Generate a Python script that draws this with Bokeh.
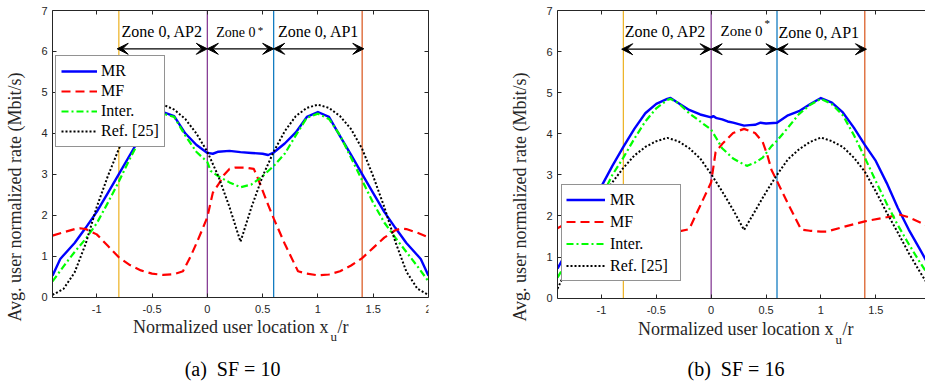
from bokeh.plotting import figure
from bokeh.layouts import row
from bokeh.models import Range1d, LinearAxis, FixedTicker, Legend, LegendItem, Label, Arrow, VeeHead
from bokeh.embed import file_html
from bokeh.resources import INLINE

# ---------------- data ----------------
x_ticks = [-1, -0.5, 0, 0.5, 1, 1.5, 2]
x_tick_labels = ["-1", "-0.5", "0", "0.5", "1", "1.5", "2"]
y_ticks = [0, 1, 2, 3, 4, 5, 6, 7]
y_tick_labels = ["0", "1", "2", "3", "4", "5", "6", "7"]

series_names = ["MR", "MF", "Inter.", "Ref. [25]"]
zone_bounds = [-0.8, 0.0, 0.6, 1.4]
zone_colors = ["#EDB120", "#7E2F8E", "#0072BD", "#D95319"]
arrow_starts = [-0.815, 0.0, 0.6]
arrow_ends = [0.0, 0.6, 1.415]
zone_names = ["Zone 0, AP2", "Zone 0", "Zone 0, AP1"]
captions = ["(a)\u00a0 SF = 10", "(b)\u00a0 SF = 16"]

# SF = 10
x_mr10 = [-1.4, -1.33, -1.3, -1.2, -1.1, -1.0, -0.9, -0.8, -0.7, -0.6, -0.5, -0.4, -0.3, -0.2, -0.1, 0.0, 0.05, 0.1,
          0.2, 0.3, 0.4, 0.5, 0.55, 0.6, 0.7, 0.8, 0.9, 1.0, 1.1, 1.2, 1.3, 1.4, 1.5, 1.6, 1.7, 1.8, 1.9, 1.93, 2.0]
mr10 = [0.52, 0.93, 1.02, 1.32, 1.69, 2.08, 2.54, 3.0, 3.47, 3.93, 4.33, 4.52, 4.42, 4.0, 3.72, 3.52, 3.5, 3.55,
        3.57, 3.54, 3.52, 3.5, 3.47, 3.53, 3.75, 4.02, 4.4, 4.52, 4.4, 3.93, 3.47, 3.0, 2.54, 2.08, 1.69, 1.32, 1.02, 0.93, 0.52]
x_mf10 = [-1.4, -1.3, -1.2, -1.15, -1.1, -1.0, -0.9, -0.8, -0.7, -0.6, -0.5, -0.4, -0.3, -0.22, -0.15, -0.1, -0.05,
          0.0, 0.05, 0.1, 0.15, 0.2, 0.25, 0.3, 0.35, 0.42, 0.45, 0.5, 0.55, 0.6, 0.7, 0.75, 0.82, 0.9, 1.0, 1.1, 1.2,
          1.3, 1.4, 1.5, 1.6, 1.7, 1.75, 1.8, 1.9, 2.0]
mf10 = [1.5, 1.58, 1.66, 1.68, 1.66, 1.53, 1.25, 0.97, 0.78, 0.65, 0.57, 0.54, 0.56, 0.63, 1.0, 1.3, 1.62,
        1.95, 2.55, 2.75, 2.98, 3.13, 3.16, 3.16, 3.16, 3.13, 2.95, 2.6, 2.25, 1.92, 1.3, 1.02, 0.63, 0.57, 0.53, 0.55, 0.63,
        0.77, 0.95, 1.2, 1.45, 1.63, 1.67, 1.66, 1.57, 1.46]
x_in10 = [-1.4, -1.3, -1.2, -1.1, -1.0, -0.9, -0.8, -0.7, -0.6, -0.5, -0.4, -0.3, -0.2, -0.1, 0.0, 0.03, 0.1, 0.2,
          0.3, 0.4, 0.5, 0.6, 0.7, 0.8, 0.9, 1.0, 1.1, 1.2, 1.3, 1.4, 1.5, 1.6, 1.7, 1.8, 1.9, 2.0]
in10 = [0.38, 0.75, 1.1, 1.42, 1.8, 2.3, 2.82, 3.38, 3.9, 4.3, 4.48, 4.4, 3.95, 3.55, 3.3, 3.08, 2.95, 2.8,
        2.68, 2.75, 2.95, 3.2, 3.5, 3.95, 4.38, 4.48, 4.35, 3.95, 3.4, 2.85, 2.3, 1.82, 1.45, 1.1, 0.75, 0.38]
x_rf10 = [-1.4, -1.3, -1.2, -1.1, -1.0, -0.9, -0.8, -0.7, -0.6, -0.5, -0.4, -0.3, -0.2, -0.1, 0.0, 0.1, 0.2, 0.3,
          0.4, 0.5, 0.6, 0.7, 0.8, 0.9, 1.0, 1.1, 1.2, 1.3, 1.4, 1.5, 1.6, 1.7, 1.8, 1.9, 2.0]
rf10 = [0.05, 0.2, 0.6, 1.3, 2.2, 2.95, 3.62, 4.12, 4.45, 4.65, 4.7, 4.58, 4.35, 4.0, 3.55, 2.95, 2.2, 1.35,
        2.2, 2.95, 3.55, 4.05, 4.42, 4.62, 4.7, 4.62, 4.42, 4.1, 3.62, 2.95, 2.2, 1.35, 0.62, 0.2, 0.05]

# SF = 16
x_mr16 = [-1.4, -1.3, -1.2, -1.1, -1.0, -0.9, -0.8, -0.7, -0.6, -0.5, -0.4, -0.37, -0.3, -0.2, -0.1, 0.0, 0.02, 0.05,
          0.1, 0.15, 0.2, 0.3, 0.35, 0.4, 0.45, 0.5, 0.6, 0.7, 0.8, 0.9, 1.0, 1.1, 1.2, 1.3, 1.4, 1.5, 1.6, 1.7, 1.8, 1.9, 2.0]
mr16 = [0.72, 1.2, 1.67, 2.2, 2.72, 3.22, 3.68, 4.12, 4.5, 4.73, 4.85, 4.87, 4.75, 4.58, 4.47, 4.4, 4.43, 4.38,
        4.35, 4.3, 4.27, 4.2, 4.21, 4.22, 4.27, 4.25, 4.27, 4.45, 4.55, 4.72, 4.87, 4.76, 4.52, 4.15, 3.73, 3.34, 2.8, 2.2, 1.67, 1.2, 0.72]
x_mf16 = [-1.4, -1.3, -1.2, -1.1, -1.0, -0.9, -0.8, -0.7, -0.6, -0.5, -0.4, -0.3, -0.2, -0.1, 0.0, 0.04, 0.1, 0.2,
          0.3, 0.4, 0.47, 0.51, 0.55, 0.6, 0.7, 0.82, 0.9, 1.0, 1.05, 1.2, 1.4, 1.6, 1.72, 1.8, 1.9, 2.0]
mf16 = [1.7, 1.85, 1.96, 2.02, 2.0, 1.95, 1.88, 1.82, 1.76, 1.7, 1.64, 1.62, 1.68, 2.25, 2.82, 3.55, 3.75, 4.02,
        4.12, 4.02, 3.8, 3.5, 3.12, 2.85, 2.3, 1.67, 1.64, 1.62, 1.62, 1.73, 1.87, 1.97, 2.03, 1.97, 1.85, 1.72]
x_in16 = [-1.4, -1.3, -1.2, -1.1, -1.0, -0.9, -0.8, -0.7, -0.6, -0.5, -0.4, -0.37, -0.3, -0.2, -0.1, 0.0, 0.05, 0.1,
          0.2, 0.3, 0.33, 0.4, 0.47, 0.55, 0.6, 0.7, 0.8, 0.9, 1.0, 1.1, 1.2, 1.3, 1.4, 1.5, 1.6, 1.7, 1.8, 1.9, 2.0]
in16 = [0.5, 0.95, 1.4, 1.9, 2.45, 3.0, 3.42, 3.88, 4.3, 4.62, 4.82, 4.85, 4.75, 4.5, 4.3, 4.1, 3.88, 3.65,
        3.4, 3.25, 3.22, 3.3, 3.42, 3.7, 3.83, 4.15, 4.48, 4.7, 4.85, 4.72, 4.45, 3.97, 3.42, 2.85, 2.3, 1.78, 1.32, 0.88, 0.48]
x_rf16 = [-1.4, -1.3, -1.2, -1.1, -1.0, -0.9, -0.8, -0.7, -0.6, -0.5, -0.4, -0.3, -0.2, -0.1, 0.0, 0.1, 0.2, 0.3,
          0.4, 0.5, 0.6, 0.7, 0.8, 0.9, 1.0, 1.1, 1.2, 1.3, 1.4, 1.5, 1.6, 1.7, 1.8, 1.9, 2.0]
rf16 = [0.23, 0.8, 1.35, 1.88, 2.38, 2.82, 3.17, 3.47, 3.68, 3.82, 3.9, 3.82, 3.65, 3.4, 3.02, 2.6, 2.15, 1.66,
        2.12, 2.58, 3.0, 3.38, 3.62, 3.8, 3.91, 3.82, 3.68, 3.42, 3.08, 2.6, 2.08, 1.6, 1.1, 0.65, 0.22]

# ---------------- styling / layout ----------------
SERIF = "Liberation Serif"
SANS = "Liberation Sans"
AX = "#262626"
H = 383
line_colors = ["#0000FF", "#FF0000", "#00FF00", "#000000"]
line_dashes = ["solid", "9 5", "7 3 2 3", "2 2"]
line_widths = [2.4, 2.2, 2.2, 2.0]

PANELS = [
    dict(width=505, x_end=2.0, border_right=77, right_axis=True, top=10, y0_px=296.5,
         series=[(x_mr10, mr10), (x_mf10, mf10), (x_in10, in10), (x_rf10, rf10)],
         legend_top=57, legend_pad=5, legend_gh=20, legend_gw=36, legend_sp=0, legend_lw=58, legend_so=4,
         legend_x=3, legend_h=90,
         arrow_y=6.064,
         zone_x=[-0.408, 0.08, 1.006], zone_y=[6.487, 6.47, 6.487], zone_align=["center", "left", "center"],
         zone_size=["16px", "14px", "16px"], star=(0.455, 6.535, "11px"),
         xl=(1.096, -30.2, 1.114, -39.5, 1.177), cap=(0.228, -71.5), caption=captions[0]),
    dict(width=420, x_end=1.953, border_right=0, right_axis=False, top=7, y0_px=297.0,
         series=[(x_mr16, mr16), (x_mf16, mf16), (x_in16, in16), (x_rf16, rf16)],
         legend_top=186, legend_pad=4, legend_gh=21, legend_gw=39, legend_sp=1, legend_lw=66, legend_so=5,
         legend_x=4, legend_h=95,
         arrow_y=6.058,
         zone_x=[-0.416, 0.085, 0.985], zone_y=[6.50, 6.50, 6.46], zone_align=["center", "left", "center"],
         zone_size=["16px", "15px", "16px"], star=(0.487, 6.686, "11px"),
         xl=(1.115, -31.3, 1.133, -41, 1.197), cap=(0.226, -71.3), caption=captions[1]),
]


def style_axis(ax, ticks, labels, show, standoff=5):
    ax.ticker = FixedTicker(ticks=ticks)
    ax.major_tick_in = 4
    ax.major_tick_out = 0
    ax.minor_tick_line_color = None
    ax.axis_line_color = AX
    ax.axis_line_width = 1
    ax.major_tick_line_color = AX
    ax.major_label_text_font = SANS
    ax.major_label_text_color = AX
    if show:
        ax.major_label_overrides = {t: l for t, l in zip(ticks, labels)}
        ax.major_label_text_font_size = "11px"
        ax.major_label_standoff = standoff
    else:
        ax.major_label_overrides = {t: "" for t in ticks}
        ax.major_label_text_font_size = "0px"
        ax.major_label_standoff = 0


def make_plot(c):
    axis_px = c["y0_px"] - c["top"]
    y_bottom = -(H - c["y0_px"]) * 7.0 / axis_px   # frame extends below the x-axis to hold its texts
    p = figure(width=c["width"], height=H, x_range=Range1d(-1.4, c["x_end"]), y_range=Range1d(y_bottom, 7),
               output_backend="svg", toolbar_location=None,
               min_border_left=52, min_border_right=c["border_right"], min_border_top=c["top"], min_border_bottom=0,
               outline_line_color=None, background_fill_color="white", border_fill_color="white")
    p.grid.visible = False
    xa = p.xaxis[0]
    style_axis(xa, x_ticks, x_tick_labels, True, standoff=8)
    xa.fixed_location = 0
    ya = p.yaxis[0]
    style_axis(ya, y_ticks, y_tick_labels, True, standoff=5)
    ya.bounds = (0, 7)
    ya.axis_label = "Avg. user normalized rate (Mbit/s)"
    ya.axis_label_text_font = SERIF
    ya.axis_label_text_font_size = "18px"
    ya.axis_label_text_font_style = "normal"
    ya.axis_label_text_color = AX
    ya.axis_label_standoff = 13
    top = LinearAxis()
    style_axis(top, x_ticks, x_tick_labels, False)
    p.add_layout(top, "above")
    if c["right_axis"]:
        ra = LinearAxis(bounds=(0, 7))
        style_axis(ra, y_ticks, y_tick_labels, False)
        p.add_layout(ra, "right")

    # zone boundary lines
    p.segment(x0=zone_bounds, y0=[0] * len(zone_bounds), x1=zone_bounds, y1=[7] * len(zone_bounds),
              line_color=zone_colors, line_width=1.2)

    rends = []
    for (xs, ys), col, dash, lw in zip(c["series"], line_colors, line_dashes, line_widths):
        r = p.line(xs, ys, line_color=col, line_dash=dash, line_width=lw, line_join="round")
        rends.append(r)

    # arrows
    for xs, xe in zip(arrow_starts, arrow_ends):
        p.add_layout(Arrow(start=VeeHead(size=11, fill_color="black", line_color="black", line_width=1),
                           end=VeeHead(size=11, fill_color="black", line_color="black", line_width=1),
                           x_start=xs, y_start=c["arrow_y"], x_end=xe, y_end=c["arrow_y"],
                           line_color="black", line_width=1.3))
    for name, zx, zy, al, fs in zip(zone_names, c["zone_x"], c["zone_y"], c["zone_align"], c["zone_size"]):
        p.add_layout(Label(x=zx, y=zy, text=name, text_font=SERIF, text_font_size=fs, text_color="black",
                           text_align=al, text_baseline="middle"))
    sx, sy, sfs = c["star"]
    p.add_layout(Label(x=sx, y=sy, text="*", text_font=SERIF, text_font_size=sfs, text_color="black",
                       text_align="left", text_baseline="middle"))

    # legend (location = bottom-left corner, px from the frame's bottom-left)
    leg_y = H - (c["legend_top"] + c["legend_h"])
    leg = Legend(items=[LegendItem(label=n, renderers=[r]) for n, r in zip(series_names, rends)],
                 location=(c["legend_x"], leg_y), padding=c["legend_pad"], glyph_height=c["legend_gh"],
                 label_height=c["legend_gh"], glyph_width=c["legend_gw"], spacing=c["legend_sp"],
                 label_width=c["legend_lw"], label_standoff=c["legend_so"], margin=0,
                 label_text_font=SERIF, label_text_font_size="16px", label_text_color="black",
                 border_line_color=AX, border_line_width=1, background_fill_color="white",
                 background_fill_alpha=1.0)
    p.add_layout(leg)

    # x-axis label with subscript
    mx, my, ux, uy, rx = c["xl"]
    p.add_layout(Label(x=mx, y=0, y_offset=my, text="Normalized user location x", text_font=SERIF,
                       text_font_size="18px", text_color=AX, text_align="right", text_baseline="middle"))
    p.add_layout(Label(x=ux, y=0, y_offset=uy, text="u", text_font=SERIF,
                       text_font_size="13px", text_color=AX, text_align="left", text_baseline="middle"))
    p.add_layout(Label(x=rx, y=0, y_offset=my, text="/r", text_font=SERIF,
                       text_font_size="18px", text_color=AX, text_align="left", text_baseline="middle"))
    # caption
    cx, cy = c["cap"]
    p.add_layout(Label(x=cx, y=0, y_offset=cy, text=c["caption"], text_font=SERIF,
                       text_font_size="20px", text_color="black", text_align="center", text_baseline="middle"))
    return p


layout = row(make_plot(PANELS[0]), make_plot(PANELS[1]))
open("out.html", "w").write(file_html(layout, INLINE))
